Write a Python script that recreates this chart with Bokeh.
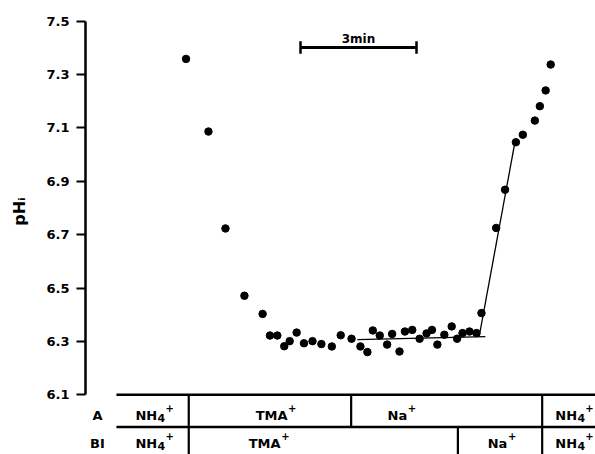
from bokeh.plotting import figure
from bokeh.models import Range1d, FixedTicker
from bokeh.core.properties import value
from bokeh.embed import file_html
from bokeh.resources import INLINE

# ---- data (time in minutes, intracellular pH) ----
time_min = [2.60, 3.18, 3.62, 4.11, 4.58, 4.77, 4.96, 5.14, 5.28, 5.46,
            5.65, 5.87, 6.10, 6.37, 6.60, 6.88, 7.11, 7.29, 7.43, 7.61,
            7.80, 7.93, 8.12, 8.26, 8.45, 8.64, 8.82, 8.96, 9.10, 9.28,
            9.47, 9.61, 9.75, 9.93, 10.11, 10.24, 10.62, 10.85, 11.13, 11.31,
            11.62, 11.75, 11.90, 12.03]
ph_i = [7.358, 7.086, 6.723, 6.471, 6.403, 6.322, 6.322, 6.282, 6.301, 6.333,
        6.293, 6.301, 6.290, 6.281, 6.323, 6.310, 6.281, 6.260, 6.341, 6.322,
        6.288, 6.328, 6.262, 6.337, 6.343, 6.310, 6.330, 6.343, 6.288, 6.325,
        6.356, 6.310, 6.331, 6.337, 6.331, 6.406, 6.725, 6.868, 7.046, 7.074,
        7.127, 7.181, 7.240, 7.337]

plateau_fit_t = [7.03, 10.34]
plateau_fit_ph = [6.307, 6.318]
rise_fit_t = [10.18, 11.09]
rise_fit_ph = [6.318, 7.034]

y_ticks = [6.1, 6.3, 6.5, 6.7, 6.9, 7.1, 7.3, 7.5]

scale_bar_start = 5.56
scale_bar_len = 3.0
scale_bar_text = "3min"

row_names = ["A", "BI"]
row_a_dividers = [2.67, 6.87, 11.81]
row_a_ions = ["NH", "TMA", "Na", "NH"]
row_a_subs = ["4", "", "", "4"]
row_a_label_t = [1.29, 4.40, 7.81, 12.15]
row_b_dividers = [2.67, 9.63, 11.81]
row_b_ions = ["NH", "TMA", "Na", "NH"]
row_b_subs = ["4", "", "", "4"]
row_b_label_t = [1.29, 4.22, 10.40, 12.15]

table_start = 0.80
table_end = 13.6
row_top, row_mid, row_bot = 6.1, 5.979, 5.85

FONT = "DejaVu Sans"
BASE_PX, SUB_PX, SUP_PX = 13, 11, 10
# approximate advance widths of DejaVu Sans Bold (em)
ADV = {"N": 0.837, "H": 0.837, "T": 0.682, "M": 0.995, "A": 0.774, "a": 0.675, "4": 0.696}


def text_width(s, px):
    return sum(ADV.get(c, 0.7) for c in s) * px


p = figure(width=595, height=454, output_backend="svg", toolbar_location=None,
           x_range=Range1d(0, 13.189), y_range=Range1d(5.8764, 7.5768),
           min_border_left=85, min_border_right=0, min_border_top=0, min_border_bottom=0,
           x_axis_location=None, y_axis_location="left")
p.outline_line_color = None
p.xgrid.visible = False
p.ygrid.visible = False
p.background_fill_color = "white"
p.border_fill_color = "white"

ax = p.yaxis[0]
ax.bounds = (6.1, 7.5)
ax.ticker = FixedTicker(ticks=y_ticks)
ax.major_label_overrides = {t: f"{t:.1f}" for t in y_ticks}
ax.minor_tick_line_color = None
ax.major_tick_in = 0
ax.major_tick_out = 9
ax.major_tick_line_width = 2
ax.major_tick_line_color = "black"
ax.axis_line_width = 2.5
ax.axis_line_color = "black"
ax.major_label_standoff = 7
ax.major_label_text_font = FONT
ax.major_label_text_font_style = "bold"
ax.major_label_text_font_size = "13px"
ax.major_label_text_color = "black"
ax.axis_label = "\u2003\u2003pHᵢ"
ax.axis_label_text_font = FONT
ax.axis_label_text_font_style = "bold"
ax.axis_label_text_font_size = "16px"
ax.axis_label_text_color = "black"
ax.axis_label_standoff = 14

# data points and fits
p.scatter(time_min, ph_i, size=7.5, color="black")
p.line(plateau_fit_t, plateau_fit_ph, line_color="black", line_width=1.3)
p.line(rise_fit_t, rise_fit_ph, line_color="black", line_width=1.3)

# scale bar
sb_y = 7.401
p.segment(x0=[scale_bar_start], y0=[sb_y], x1=[scale_bar_start + scale_bar_len], y1=[sb_y],
          line_color="black", line_width=3)
p.segment(x0=[scale_bar_start, scale_bar_start + scale_bar_len], y0=[7.377, 7.377],
          x1=[scale_bar_start, scale_bar_start + scale_bar_len], y1=[7.424, 7.424],
          line_color="black", line_width=2.5)
p.text(x=[scale_bar_start + scale_bar_len / 2], y=[7.431], text=[scale_bar_text],
       text_align="center", text_baseline="alphabetic", text_font=value(FONT),
       text_font_style="bold", text_font_size="12px", text_color="black")

# solution table
p.segment(x0=[table_start, table_start], y0=[row_top, row_mid],
          x1=[table_end, table_end], y1=[row_top, row_mid],
          line_color="black", line_width=2.5)
p.segment(x0=row_a_dividers, y0=[row_top] * 3, x1=row_a_dividers, y1=[row_mid] * 3,
          line_color="black", line_width=2.2)
p.segment(x0=row_b_dividers, y0=[row_mid] * 3, x1=row_b_dividers, y1=[row_bot] * 3,
          line_color="black", line_width=2.2)

row_a_y = 6.0236   # text baselines
row_b_y = 5.9187
txt = dict(text_font=value(FONT), text_font_style="bold", text_color="black",
           text_baseline="alphabetic")
p.text(x=[0.31, 0.31], y=[row_a_y, row_b_y], text=row_names, text_align="center",
       text_font_size=f"{BASE_PX}px", **txt)


def draw_row(ts, ions, subs, y):
    n = len(ts)
    p.text(x=ts, y=[y] * n, text=ions, text_align="left",
           text_font_size=f"{BASE_PX}px", **txt)
    sub_off = [text_width(s, BASE_PX) + 0.3 for s in ions]
    p.text(x=ts, y=[y] * n, text=subs, text_align="left", x_offset=sub_off,
           y_offset=3, text_font_size=f"{SUB_PX}px", **txt)
    sup_off = [o + text_width(s, SUB_PX) + 0.3 for o, s in zip(sub_off, subs)]
    p.text(x=ts, y=[y] * n, text=["+"] * n, text_align="left", x_offset=sup_off,
           y_offset=-7, text_font_size=f"{SUP_PX}px", **txt)


draw_row(row_a_label_t, row_a_ions, row_a_subs, row_a_y)
draw_row(row_b_label_t, row_b_ions, row_b_subs, row_b_y)

open("out.html", "w").write(file_html(p, INLINE))
